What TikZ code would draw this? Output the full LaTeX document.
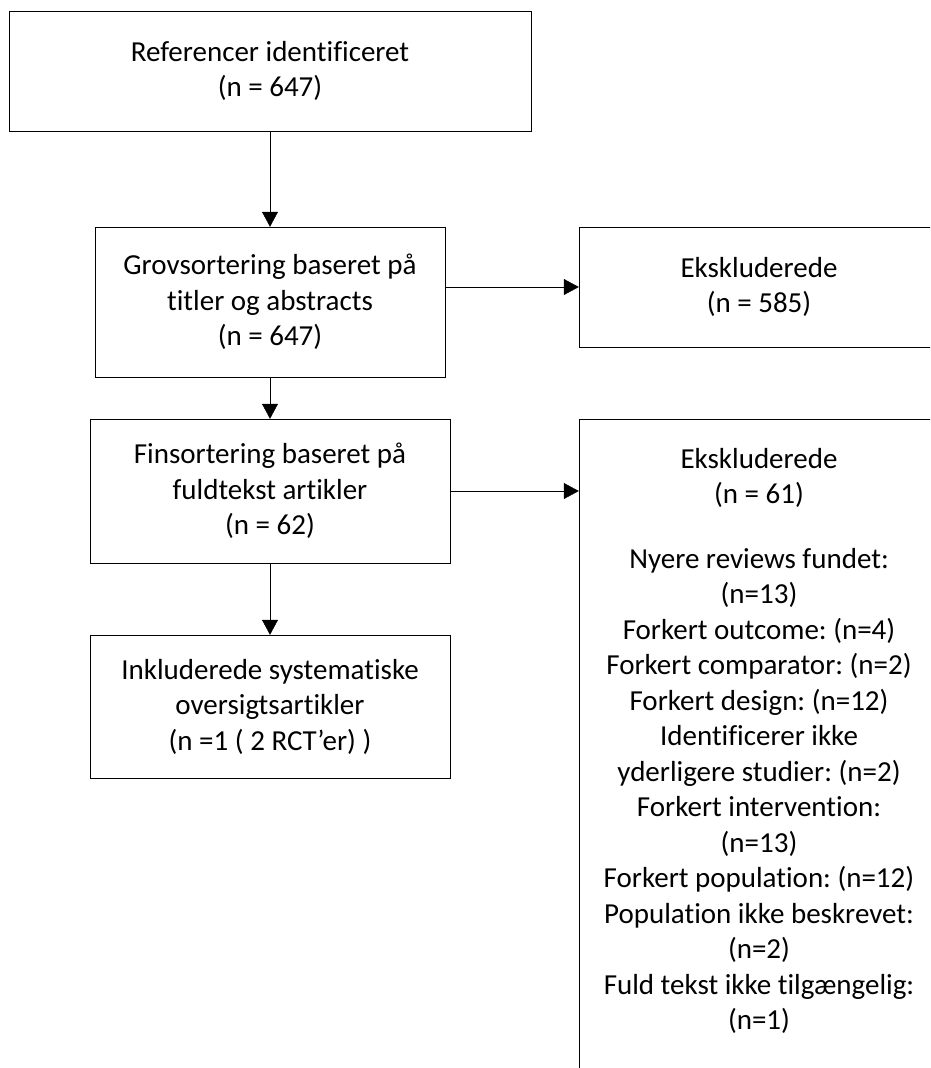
\documentclass[tikz,border=0pt]{standalone}
\usepackage{fontspec}
\setmainfont{Carlito}[Ligatures=NoCommon]
\frenchspacing
\usetikzlibrary{arrows.meta, positioning}
\tikzset{
    >={Triangle[length=15pt, width=16pt]}, % filled triangle heads
    line width=1.6pt, % thickness of boxes and arrows
    box/.style={draw, align=center, inner sep=0pt, font=\fontsize{29}{35.5}\selectfont}, % every flow box
    flow/.style={->}, % connector between boxes
}
\begin{document}
\begin{tikzpicture}[x=1pt, y=-1pt]
    \useasboundingbox (0,0) rectangle (930,1068);
    \clip (0,0) rectangle (930,1068);
    \node[box, minimum width=522pt, minimum height=120pt] (ref) at (270,71) {Referencer identificeret\\(n = 647)};
    \node[box, minimum width=350pt, minimum height=150pt] (grov) at (270,302) {Grovsortering baseret på\\titler og abstracts\\(n = 647)};
    \node[box, minimum width=360pt, minimum height=120pt] (eks1) at (759,287) {Ekskluderede\\(n = 585)};
    \node[box, minimum width=360pt, minimum height=144pt] (fin) at (270,491) {Finsortering baseret på\\fuldtekst artikler\\(n = 62)};
    \node[box, anchor=north, inner ysep=29pt] (eks2) at (759,419) {\parbox[c][640pt][t]{360pt}{\centering
        Ekskluderede\\(n = 61)\\[29pt]
        Nyere reviews fundet:\\(n=13)\\
        Forkert outcome: (n=4)\\
        Forkert comparator: (n=2)\\
        Forkert design: (n=12)\\
        Identificerer ikke\\yderligere studier: (n=2)\\
        Forkert intervention:\\(n=13)\\
        Forkert population: (n=12)\\
        Population ikke beskrevet:\\(n=2)\\
        Fuld tekst ikke tilgængelig:\\(n=1)}};
    \node[box, minimum width=360pt, minimum height=143pt] (inkl) at (270,706.5) {Inkluderede systematiske\\oversigtsartikler\\(n =1 ( 2 RCT’er) )};
    \draw[flow] (ref) -- (grov);
    \draw[flow] (grov.east |- eks1.west) -- (eks1.west);
    \draw[flow] (grov) -- (fin);
    \draw[flow] (fin) -- (fin -| eks2.west);
    \draw[flow] (fin) -- (inkl);
\end{tikzpicture}
\end{document}
